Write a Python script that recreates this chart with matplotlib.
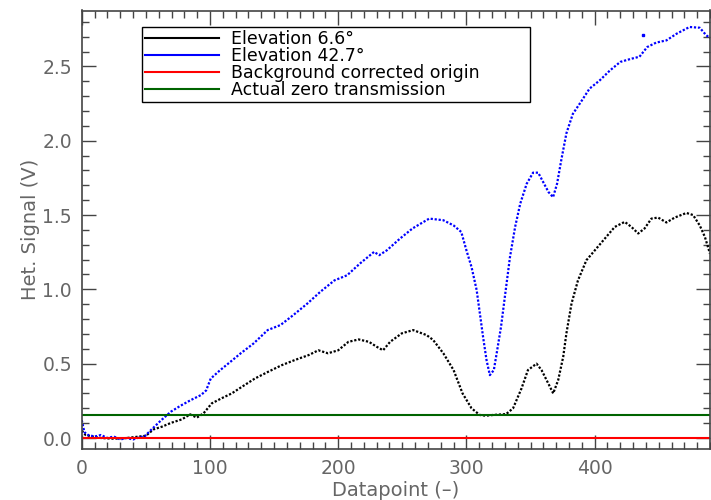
import numpy as np
import matplotlib
matplotlib.use("Agg")
import matplotlib.pyplot as plt
from matplotlib.ticker import MultipleLocator, FormatStrFormatter


# values (datapoint, volts)
low_x = [0, 2, 5, 10, 15, 20, 25, 30, 35, 40, 45, 49]
low_x_black = [0, 3, 8, 15, 25, 35, 45, 50]

blue_x = low_x + [54, 62, 69.5, 77, 85, 93, 97, 100.6, 108, 116, 124, 134, 145,
                  155, 165, 176, 186, 197, 207, 217, 228, 232, 238, 248, 258,
                  271, 282, 290, 296, 300, 304, 308, 310.5, 313, 315.7, 318.3,
                  321.4, 324, 327, 330, 334, 338, 342, 347, 352, 356, 360,
                  364, 367.6, 370.7, 374, 378, 383, 390, 396, 404, 412, 420,
                  428, 435, 441, 448, 456, 464, 474, 482, 487, 490]
blue_y = [0.12, 0.04, 0.02, 0.01, 0.02, 0.0, 0.01, -0.01, 0.0, -0.01, 0.005, 0.01,
          0.054, 0.12, 0.177, 0.217, 0.255, 0.289, 0.32, 0.40, 0.457, 0.513,
          0.57, 0.636, 0.726, 0.76, 0.827, 0.905, 0.983, 1.06, 1.095, 1.174,
          1.252, 1.23, 1.263, 1.34, 1.41, 1.476, 1.465, 1.43, 1.386, 1.263,
          1.15, 0.995, 0.838, 0.68, 0.524, 0.423, 0.457, 0.59, 0.748, 0.95,
          1.218, 1.42, 1.577, 1.71, 1.785, 1.785, 1.72, 1.655, 1.62, 1.71,
          1.87, 2.05, 2.18, 2.27, 2.35, 2.406, 2.473, 2.53, 2.55, 2.565,
          2.63, 2.66, 2.675, 2.72, 2.765, 2.76, 2.71, 2.69]
# single stray sample above the blue curve
blue_spike_x = [438]
blue_spike_y = [2.71]

black_x = low_x_black + [56, 62.5, 70, 78, 84.5, 89.7, 95, 101.4, 109, 117, 125,
                         135, 145.5, 156, 166, 177, 184.5, 192, 200, 208, 216,
                         224, 230, 235, 240.5, 249.6, 258.5, 269, 274, 282,
                         290, 297, 304, 310.4, 315, 320.8, 326, 331, 336.4,
                         343, 348, 354.7, 358.6, 363.8, 367.7, 371.6, 375.5,
                         378, 382, 387, 393.6, 401.4, 408, 415.7, 423.5, 428.7,
                         434, 439, 444.3, 449.5, 456, 462.5, 471.6, 476.8, 482,
                         486, 490]
black_y = [0.05, 0.02, 0.01, 0.0, -0.005, 0.0, 0.01, 0.015,
           0.058, 0.076, 0.103, 0.125, 0.159, 0.137, 0.166, 0.233, 0.267,
           0.30, 0.345, 0.40, 0.446, 0.49, 0.524, 0.558, 0.59, 0.57, 0.59,
           0.647, 0.663, 0.647, 0.614, 0.59, 0.647, 0.704, 0.726, 0.692,
           0.66, 0.57, 0.457, 0.30, 0.20, 0.155, 0.15, 0.155, 0.158, 0.161,
           0.20, 0.334, 0.457, 0.50, 0.457, 0.368, 0.30, 0.39, 0.546, 0.704,
           0.905, 1.06, 1.196, 1.275, 1.342, 1.42, 1.454, 1.42, 1.376, 1.41,
           1.476, 1.483, 1.45, 1.483, 1.514, 1.50, 1.43, 1.353, 1.24]

origin_level = 0.0
zero_transmission = 0.158

labels = ["Elevation 6.6°", "Elevation 42.7°",
          "Background corrected origin", "Actual zero transmission"]
colors = ["black", "blue", "red", "#006400"]

TXT = "#666666"
AX = "#444444"

fig = plt.figure(figsize=(7.11, 5.0), dpi=100)
ax = fig.add_axes([0.115, 0.102, 0.8836, 0.877])

dots = (0, (1, 0.8))
ax.plot(black_x, black_y, color="black", lw=1.6, ls=dots)
ax.plot(blue_x, blue_y, color="blue", lw=1.6, ls=dots)
ax.plot(blue_spike_x, blue_spike_y, color="blue", lw=0, marker="s", ms=2)
ax.axhline(origin_level, color="red", lw=1.5)
ax.axhline(zero_transmission, color="#006400", lw=1.5)

ax.set_xlim(0, 490)
ax.set_ylim(-0.074, 2.876)

ax.xaxis.set_major_locator(MultipleLocator(100))
ax.xaxis.set_minor_locator(MultipleLocator(10))
ax.yaxis.set_major_locator(MultipleLocator(0.5))
ax.yaxis.set_minor_locator(MultipleLocator(0.1))
ax.yaxis.set_major_formatter(FormatStrFormatter("%.1f"))

ax.tick_params(which="both", direction="in", top=True, right=True,
               colors=AX, labelcolor=TXT, labelsize=13.5, pad=7)
ax.tick_params(which="major", length=10, width=1)
ax.tick_params(which="minor", length=5, width=1)
for s in ax.spines.values():
    s.set_color(AX)
    s.set_linewidth(1.2)

ax.set_xlabel("Datapoint (\u2013)", color=TXT, fontsize=14, labelpad=2)
ax.set_ylabel("Het. Signal (V)", color=TXT, fontsize=14, labelpad=2)

handles = [plt.Line2D([], [], color=c, lw=1.5) for c in colors]
leg = ax.legend(handles, labels, loc="upper left",
                bbox_to_anchor=(0.096, 0.796, 0.618, 0.166), mode="expand",
                borderaxespad=0, fancybox=False, framealpha=1,
                edgecolor="black", fontsize=12.5, handlelength=4.3,
                handletextpad=0.7, labelspacing=-0.05, borderpad=0.15)
leg.get_frame().set_linewidth(1.0)

fig.savefig("out.png", dpi=100)
